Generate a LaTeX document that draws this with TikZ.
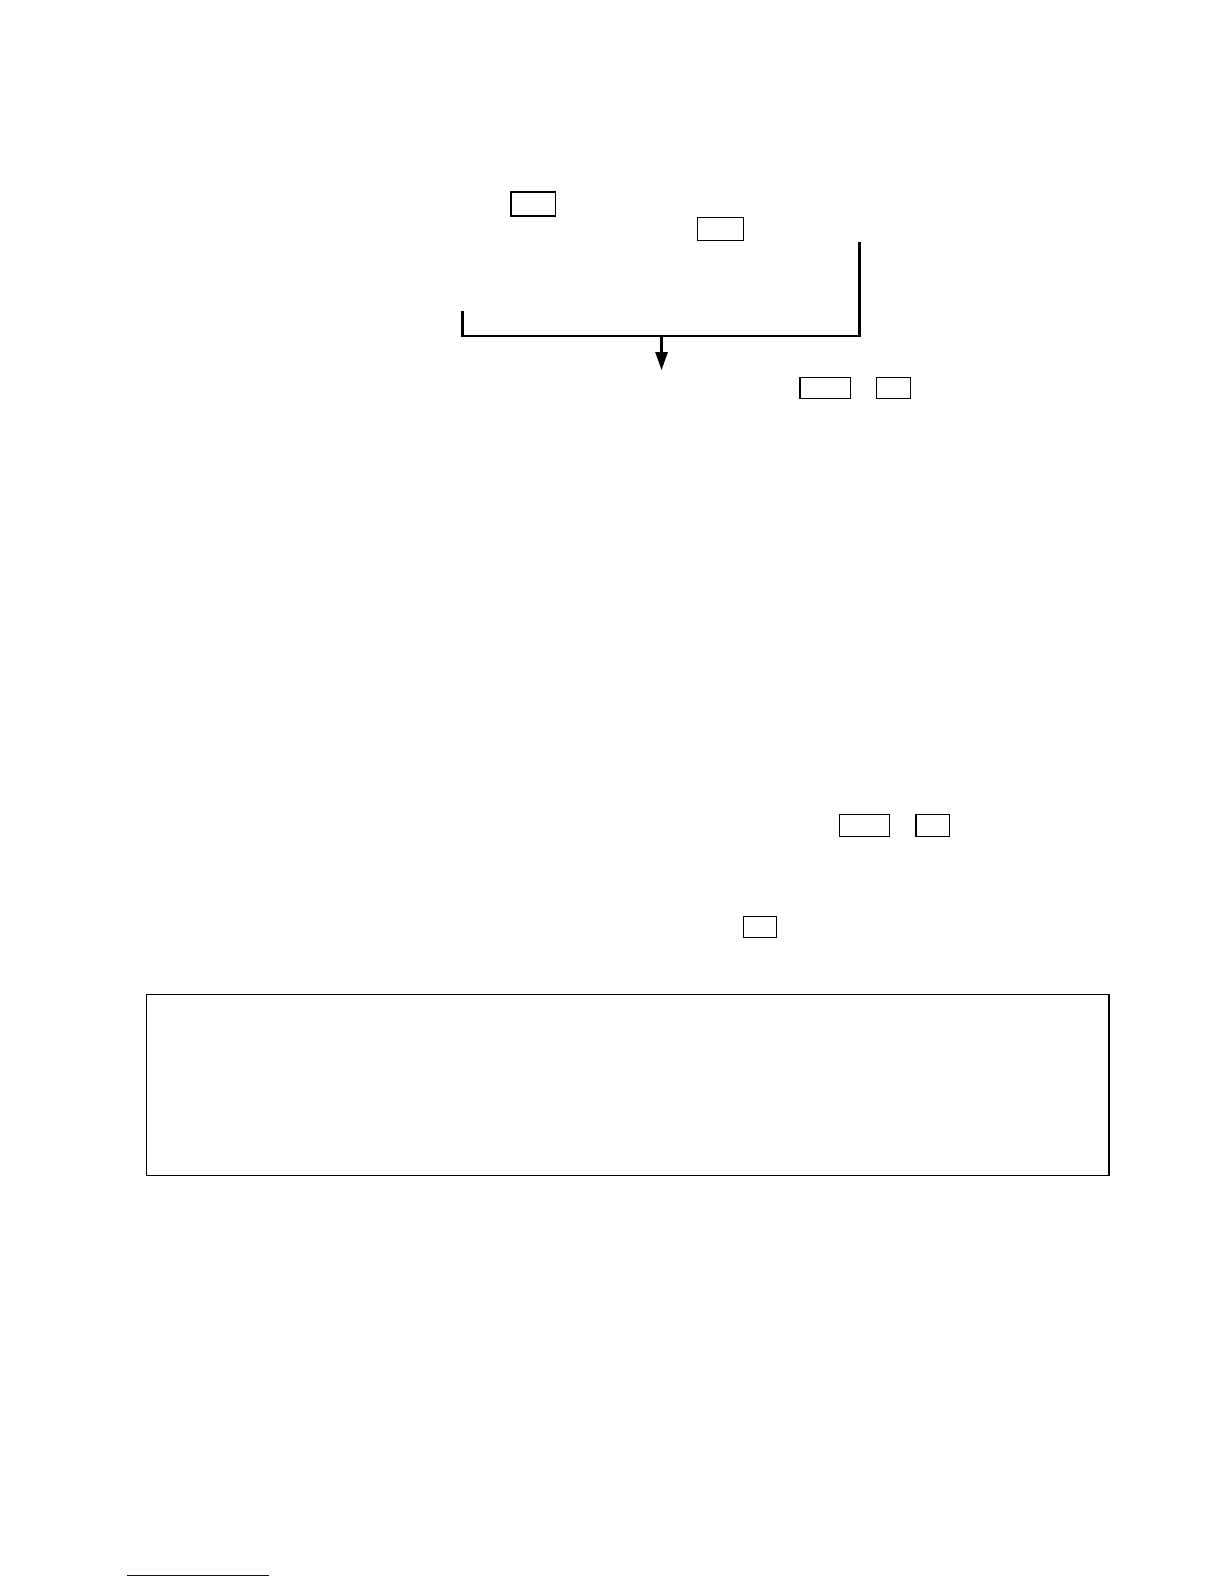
\documentclass[tikz,border=0pt]{standalone}
\usetikzlibrary{arrows.meta}
\begin{document}
\begin{tikzpicture}[x=1.01pt,y=-1.01pt,
  smallbox/.style={draw=black,line width=1.2pt,inner sep=0pt,fill=white},
  conn/.style={draw=black,line width=2.3pt},
  frame/.style={draw=black,line width=1.1pt,inner sep=0pt}]
\useasboundingbox (0,0) rectangle (1211.88,1568.32);
% small empty boxes
\node[smallbox,minimum width=44.5pt,minimum height=24pt] (ba) at (528,202) {};
\node[smallbox,minimum width=45.5pt,minimum height=23pt] (bb) at (713.5,226.5) {};
\node[smallbox,minimum width=50.5pt,minimum height=21pt] (bc) at (817,384.5) {};
\node[smallbox,minimum width=33.5pt,minimum height=21pt] (bd) at (884.5,384.5) {};
\node[smallbox,minimum width=50.5pt,minimum height=22pt] (be) at (856,817) {};
\node[smallbox,minimum width=33.5pt,minimum height=22pt] (bf) at (923.5,817) {};
\node[smallbox,minimum width=33.5pt,minimum height=21pt] (bg) at (752.5,917.5) {};
% large frame
\node[frame,minimum width=962.5pt,minimum height=181pt] (big) at (621.5,1074.5) {};
% bracket connector
\coordinate (rtop) at (851,241);
\coordinate (ltop) at (458,309);
\coordinate (rcorner) at (851,333);
\coordinate (lcorner) at (458,333);
\coordinate (mid) at (655,333);
\coordinate (tip) at (655,366.5);
\draw[conn,line cap=rect] (ltop) -- (lcorner) -- (rcorner) -- (rtop);
\draw[conn,-{Triangle[length=18pt,width=12pt]}] (mid) -- (tip);
% footnote rule
\coordinate (fnl) at (126,1560);
\coordinate (fnr) at (266,1560);
\draw[draw={rgb,255:red,0;green,0;blue,170},line width=1.3pt] (fnl) -- (fnr);
\end{tikzpicture}
\end{document}
